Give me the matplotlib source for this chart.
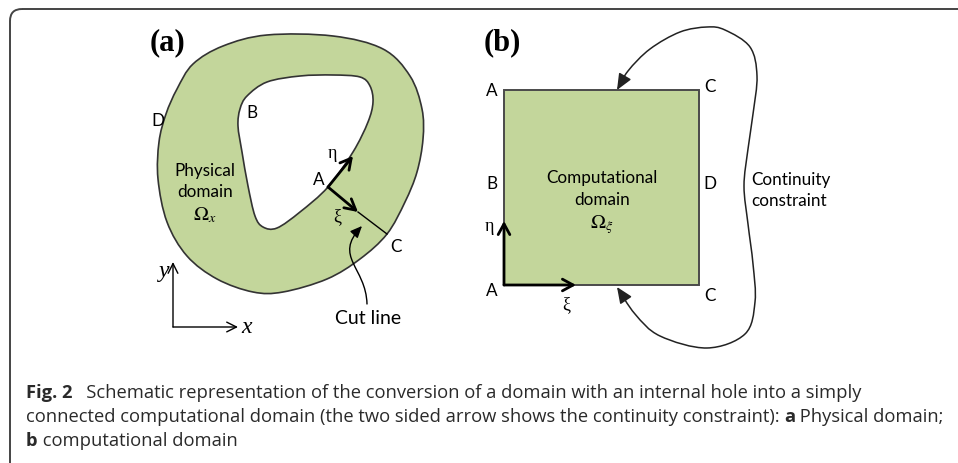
import numpy as np
import matplotlib
matplotlib.use("Agg")
import matplotlib.pyplot as plt
from matplotlib.path import Path
from matplotlib.patches import PathPatch, FancyArrowPatch, FancyBboxPatch, Rectangle

plt.rcParams["mathtext.fontset"] = "stix"

# ---------------- data (pixel-space schematic geometry) ----------------
outer_x = [267, 333, 383, 410, 422, 423, 417, 405, 387, 360, 327, 283, 253, 217, 187, 167, 158, 159, 166, 177, 193, 223]
outer_y = [36, 37, 50, 77, 110, 140, 173, 203, 235, 260, 280, 293, 293, 280, 257, 223, 180, 143, 115, 90, 65, 47]
hole_x = [247, 267, 300, 333, 360, 370, 373, 368, 353, 328, 300, 277, 263, 255, 248, 242, 238, 240]
hole_y = [97, 83, 77, 76, 78, 87, 103, 123, 153, 188, 213, 229, 228, 217, 187, 153, 127, 110]
cont_x = [617, 635, 660, 707, 745, 755, 753, 748, 744, 748, 753, 757, 750, 725, 707, 680, 650, 628, 617]
cont_y = [288, 315, 337, 349, 335, 303, 265, 225, 187, 150, 115, 77, 48, 31, 28, 33, 50, 72, 91]
square_x = [504, 699]
square_y = [91, 286]
point_A_a = (328, 188)
eta_tip_a = (353, 157)
xi_tip_a = (358, 213)
point_C_a = (387, 235)

labels_a = [("D", 158, 121), ("B", 252, 113), ("A", 319, 180), ("C", 396, 247)]
labels_b = [("A", 492, 91), ("C", 710, 87), ("B", 492, 184), ("D", 710, 184), ("A", 492, 291), ("C", 710, 296)]

caption_lines = [
    [("Fig. 2", True), ("   Schematic representation of the conversion of a domain with an internal hole into a simply", False)],
    [("connected computational domain (the two sided arrow shows the continuity constraint): ", False),
     ("a", True), (" Physical domain;", False)],
    [("b", True), (" computational domain", False)],
]

GREEN = "#c3d69b"
EDGE = "#333333"


def catmull_bezier(xs, ys, closed=True):
    P = np.column_stack([xs, ys]).astype(float)
    n = len(P)
    verts = [P[0]]
    codes = [Path.MOVETO]
    segs = n if closed else n - 1
    for i in range(segs):
        p0 = P[(i - 1) % n] if (closed or i > 0) else P[0]
        p1 = P[i % n]
        p2 = P[(i + 1) % n]
        p3 = P[(i + 2) % n] if (closed or i + 2 < n) else P[n - 1]
        c1 = p1 + (p2 - p0) / 6.0
        c2 = p2 - (p3 - p1) / 6.0
        verts += [c1, c2, p2]
        codes += [Path.CURVE4] * 3
    if closed:
        verts.append(P[0])
        codes.append(Path.CLOSEPOLY)
    return Path(verts, codes)


fig = plt.figure(figsize=(9.58, 4.64), dpi=100)
ax = fig.add_axes([0, 0, 1, 1])
ax.set_xlim(0, 958)
ax.set_ylim(464, 0)
ax.axis("off")

# frame
frame = FancyBboxPatch((10, 10), 1000, 520, boxstyle="round,pad=0,rounding_size=12",
                       fc="none", ec="#444444", lw=1.4)
ax.add_patch(frame)

LBL = dict(family="Lato", fontsize=12.3, color="black")
GRK = dict(family="Liberation Serif", fontsize=13, color="black")

# ---------------- panel (a) ----------------
ax.add_patch(PathPatch(catmull_bezier(outer_x, outer_y), fc=GREEN, ec=EDGE, lw=1.2))
ax.add_patch(PathPatch(catmull_bezier(hole_x, hole_y), fc="white", ec=EDGE, lw=1.2))

ax.plot([xi_tip_a[0], point_C_a[0]], [xi_tip_a[1], point_C_a[1]], color="black", lw=1.0)
arw = dict(arrowstyle="->,head_length=0.55,head_width=0.3", lw=2.0, color="black",
           shrinkA=0, shrinkB=0, mutation_scale=14)
ax.annotate("", xy=eta_tip_a, xytext=point_A_a, arrowprops=arw)
ax.annotate("", xy=xi_tip_a, xytext=point_A_a, arrowprops=arw)

for t, x, y in labels_a:
    ax.text(x, y, t, ha="center", va="center", **LBL)
ax.text(332, 154, "η", ha="center", va="center", **GRK)
ax.text(337, 217, "ξ", ha="center", va="center", **GRK)
ax.text(205, 171, "Physical", ha="center", va="center", **LBL)
ax.text(205, 192, "domain", ha="center", va="center", **LBL)
ax.text(205, 215, r"$\Omega_{x}$", ha="center", va="center", fontsize=14.5)
ax.text(168, 43, "(a)", ha="center", va="center", family="Liberation Serif",
        fontweight="bold", fontsize=22)

# cut line pointer
cut_path = Path([(367, 305), (366, 268), (333, 258), (362, 227)],
                [Path.MOVETO, Path.CURVE4, Path.CURVE4, Path.CURVE4])
ax.add_patch(FancyArrowPatch(path=cut_path, arrowstyle="-|>,head_length=0.5,head_width=0.22",
                             mutation_scale=14, lw=1.0, color="black"))
ax.text(368, 319, "Cut line", ha="center", va="center", family="Lato", fontsize=14)

# xy axes
ax_arw = dict(arrowstyle="->,head_length=0.5,head_width=0.25", lw=1.0, color="black",
              shrinkA=0, shrinkB=0, mutation_scale=14)
ax.annotate("", xy=(173, 263), xytext=(173, 328), arrowprops=ax_arw)
ax.annotate("", xy=(238, 328), xytext=(173, 328), arrowprops=ax_arw)
ax.text(164, 272, "y", ha="center", va="center", family="Liberation Serif", style="italic", fontsize=17)
ax.text(247, 328, "x", ha="center", va="center", family="Liberation Serif", style="italic", fontsize=17)

# ---------------- panel (b) ----------------
ax.add_patch(Rectangle((square_x[0], square_y[0]), square_x[1] - square_x[0],
                       square_y[1] - square_y[0], fc=GREEN, ec="#4a4a4a", lw=1.4))
for t, x, y in labels_b:
    ax.text(x, y, t, ha="center", va="center", **LBL)
ax.annotate("", xy=(504, 222), xytext=(504, 286), arrowprops=arw)
ax.annotate("", xy=(576, 286), xytext=(504, 286), arrowprops=arw)
ax.text(489, 227, "η", ha="center", va="center", **GRK)
ax.text(566, 305, "ξ", ha="center", va="center", **GRK)
ax.text(602, 178, "Computational", ha="center", va="center", **LBL)
ax.text(602, 200, "domain", ha="center", va="center", **LBL)
ax.text(602, 225, r"$\Omega_{\xi}$", ha="center", va="center", fontsize=14.5)
ax.text(502, 43, "(b)", ha="center", va="center", family="Liberation Serif",
        fontweight="bold", fontsize=22)

cpath = catmull_bezier(cont_x, cont_y, closed=False)
ax.add_patch(FancyArrowPatch(path=cpath, arrowstyle="<|-|>,head_length=0.7,head_width=0.3",
                             mutation_scale=14, lw=1.1, color="#222222"))
ax.text(751, 180, "Continuity", ha="left", va="center", **LBL)
ax.text(751, 201, "constraint", ha="left", va="center", **LBL)

# ---------------- caption ----------------
CAP = dict(family="Open Sans", fontsize=13.2, color="#2a2a2a", va="baseline")
fig.canvas.draw()
renderer = fig.canvas.get_renderer()


def run(x, y, pieces):
    inv = ax.transData.inverted()
    for txt, bold in pieces:
        t = ax.text(x, y, txt, fontweight="bold" if bold else "normal", **CAP)
        bb = t.get_window_extent(renderer=renderer)
        x0 = inv.transform((bb.x0, bb.y0))[0]
        x1 = inv.transform((bb.x1, bb.y0))[0]
        x = x + (x1 - x0)


for k, pieces in enumerate(caption_lines):
    run(26, 398 + 24 * k, pieces)

fig.savefig("out.png", dpi=100)
